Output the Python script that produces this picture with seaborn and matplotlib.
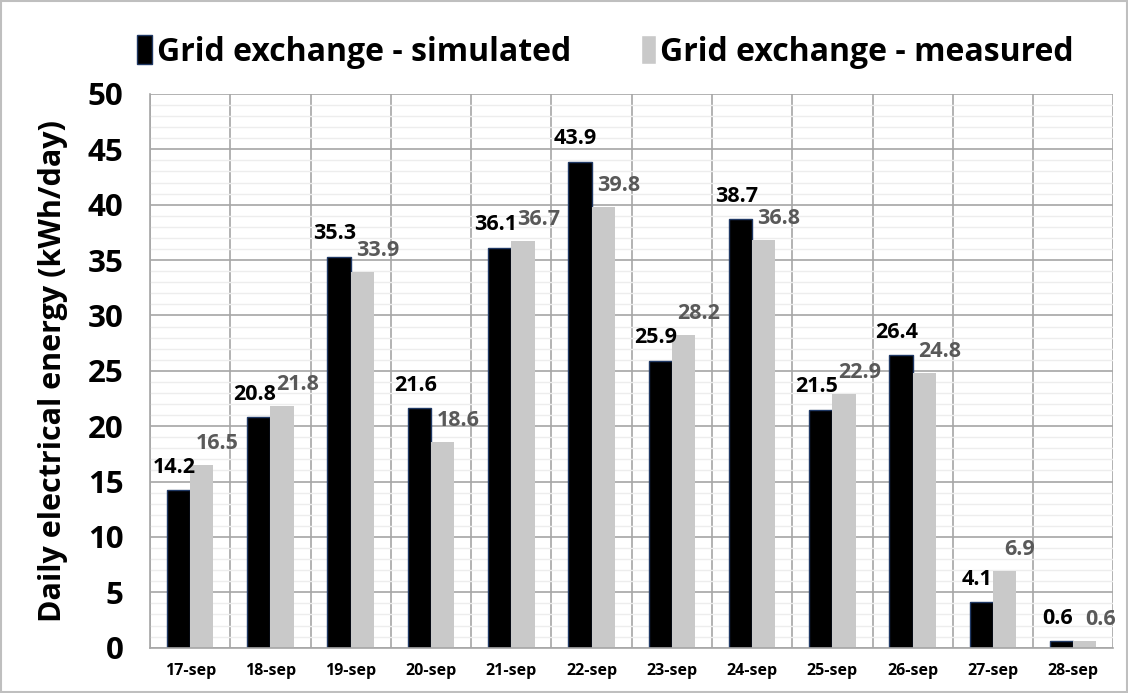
import pandas as pd
import seaborn as sns
import matplotlib.pyplot as plt
from matplotlib.patches import Rectangle
from matplotlib.ticker import MultipleLocator

days = ["17-sep", "18-sep", "19-sep", "20-sep", "21-sep", "22-sep",
        "23-sep", "24-sep", "25-sep", "26-sep", "27-sep", "28-sep"]
simulated = [14.2, 20.8, 35.3, 21.6, 36.1, 43.9, 25.9, 38.7, 21.5, 26.4, 4.1, 0.6]
measured = [16.5, 21.8, 33.9, 18.6, 36.7, 39.8, 28.2, 36.8, 22.9, 24.8, 6.9, 0.6]
series_names = ["Grid exchange - simulated", "Grid exchange - measured"]

sns.set_theme(style="white")
plt.rcParams['font.family'] = ['Open Sans', 'DejaVu Sans']
plt.rcParams['font.weight'] = 'bold'
plt.rcParams['text.color'] = 'black'
plt.rcParams['axes.labelcolor'] = 'black'
plt.rcParams['xtick.color'] = 'black'
plt.rcParams['ytick.color'] = 'black'

df = pd.DataFrame({
    "Day": days * 2,
    "Energy": simulated + measured,
    "Series": [series_names[0]] * len(days) + [series_names[1]] * len(days),
})

palette = {series_names[0]: "#000000", series_names[1]: "#c9c9c9"}

fig = plt.figure(figsize=(11.28, 6.93), dpi=100)
ax = fig.add_axes([0.133, 0.0654, 0.854, 0.799])

sns.barplot(data=df, x="Day", y="Energy", hue="Series", palette=palette,
            width=0.58, gap=0, ax=ax, legend=True, saturation=1)

# dark blue edge on the simulated bars
for bar in ax.containers[0]:
    bar.set_edgecolor("#1f3864")
    bar.set_linewidth(1.0)
for bar in ax.containers[1]:
    bar.set_linewidth(0)

ax.set_ylim(0, 50)
ax.set_xlim(-0.5, len(days) - 0.5)
ax.yaxis.set_major_locator(MultipleLocator(5))
ax.yaxis.set_minor_locator(MultipleLocator(1))
ax.set_axisbelow(True)
ax.grid(axis="y", which="major", color="#a6a6a6", linewidth=1.2)
ax.grid(axis="y", which="minor", color="#ededed", linewidth=1.0)
for b in range(len(days) + 1):
    ax.axvline(b - 0.5, color="#a6a6a6", linewidth=1.2, zorder=0.5)

for s in ["top", "right"]:
    ax.spines[s].set_visible(False)
for s in ["left", "bottom"]:
    ax.spines[s].set_color("#a6a6a6")
    ax.spines[s].set_linewidth(1.2)

ax.tick_params(axis="y", which="major", length=8, color="#a6a6a6",
               labelcolor="black", labelsize=22.5, pad=11)
ax.tick_params(axis="y", which="minor", length=0)
ax.set_xticks(range(len(days)))
ax.set_xticklabels(days, fontsize=11.5, fontweight="bold")
ax.set_xticks([b - 0.5 for b in range(len(days) + 1)], minor=True)
ax.tick_params(axis="x", which="major", length=0, pad=11, labelcolor="black")
ax.tick_params(axis="x", which="minor", length=6, color="#a6a6a6")
for lbl in ax.get_yticklabels():
    lbl.set_fontweight("bold")

ax.set_xlabel("")
ax.set_ylabel("Daily electrical energy (kWh/day)", fontsize=22,
              fontweight="bold", labelpad=14)

# value labels
for bar, v in zip(ax.containers[0], simulated):
    ax.annotate(f"{v:.1f}", (bar.get_x() + bar.get_width() / 2, v),
                xytext=(-3, 9), textcoords="offset points", ha="center",
                va="bottom", fontsize=15.5, fontweight="bold", color="#000000")
for bar, v in zip(ax.containers[1], measured):
    ax.annotate(f"{v:.1f}", (bar.get_x() + bar.get_width() / 2, v),
                xytext=(11, 8), textcoords="offset points", ha="center",
                va="bottom", fontsize=15.5, fontweight="bold", color="#595959")

leg = ax.legend(loc="center", bbox_to_anchor=(0.537, 0.925),
                bbox_transform=fig.transFigure, ncol=2, frameon=False,
                fontsize=23, handlelength=0.45, handleheight=1.0,
                handletextpad=0.15, columnspacing=2.2)
for t in leg.get_texts():
    t.set_fontweight("bold")
    t.set_color("black")
leg.legend_handles[0].set_edgecolor("#1f3864")

fig.add_artist(Rectangle((0.001, 0.001), 0.998, 0.997, transform=fig.transFigure,
                         fill=False, edgecolor="#bfbfbf", linewidth=1.5))

fig.savefig("out.png", dpi=100)
